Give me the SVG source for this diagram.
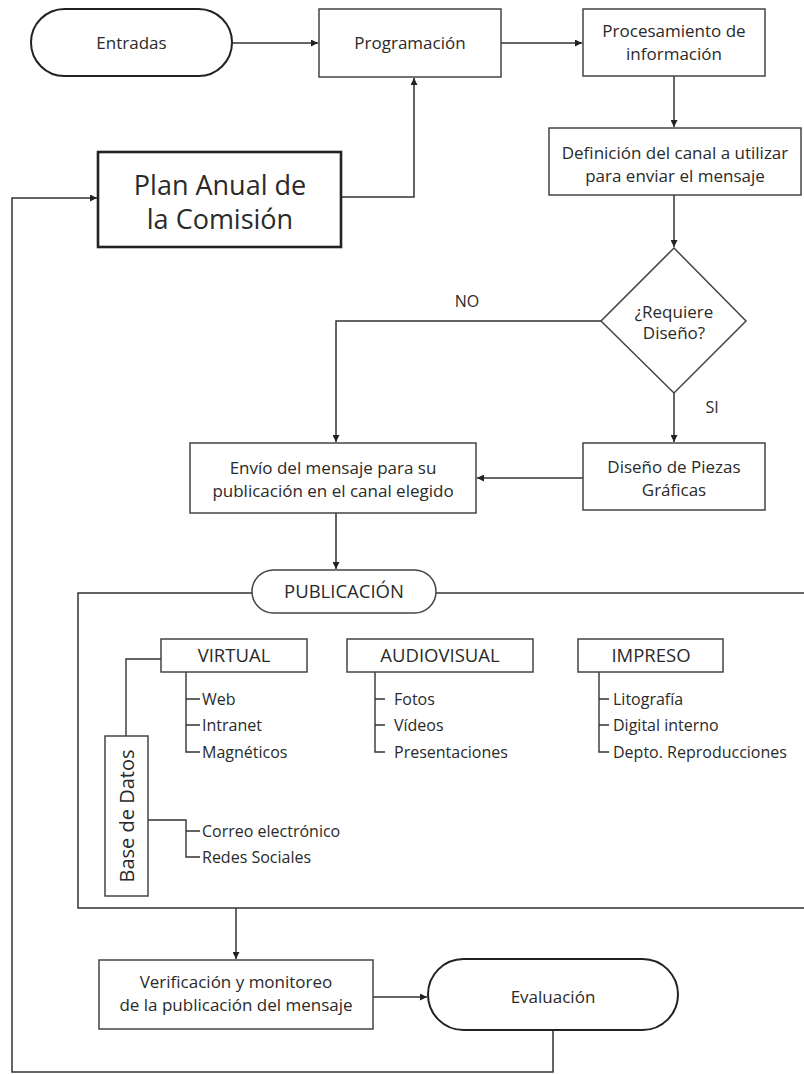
<svg xmlns="http://www.w3.org/2000/svg" width="804" height="1074" viewBox="0 0 804 1074">
  <style>
    text { font-family: "Open Sans", "Noto Sans", "DejaVu Sans", sans-serif; fill: #2a2a2a; text-anchor: middle; }
    .box { fill: #fff; stroke: #444; stroke-width: 1.5; }
    .thick { fill: #fff; stroke: #222; stroke-width: 2.6; }
    .term { fill: #fff; stroke: #222; stroke-width: 2; }
    .line { fill: none; stroke: #333; stroke-width: 1.5; }
    .tree { fill: none; stroke: #333; stroke-width: 1.4; }
    .t17 { font-size: 17px; }
    .t16 { font-size: 16px; }
    .t18 { font-size: 18.5px; }
    .item { font-size: 16px; text-anchor: start; }
  </style>
  <defs>
    <marker id="arrow" viewBox="0 0 10 10" refX="10" refY="5" markerWidth="9" markerHeight="7" markerUnits="userSpaceOnUse" orient="auto">
      <path d="M0,0 L10,5 L0,10 z" fill="#222"/>
    </marker>
  </defs>

  <rect width="804" height="1074" fill="#fff"/>

  <!-- connectors -->
  <g id="connectors">
    <path class="line" d="M232,43 H318" marker-end="url(#arrow)"/>
    <path class="line" d="M501,43 H582" marker-end="url(#arrow)"/>
    <path class="line" d="M674,76 V127" marker-end="url(#arrow)"/>
    <path class="line" d="M674,195 V247" marker-end="url(#arrow)"/>
    <path class="line" d="M601,321 H336 V442" marker-end="url(#arrow)"/>
    <path class="line" d="M674,393 V442" marker-end="url(#arrow)"/>
    <path class="line" d="M583,478 H477" marker-end="url(#arrow)"/>
    <path class="line" d="M336,513 V569" marker-end="url(#arrow)"/>
    <path class="line" d="M236,908 V959" marker-end="url(#arrow)"/>
    <path class="line" d="M373,997 H427" marker-end="url(#arrow)"/>
    <path class="line" d="M553,1030 V1072 H12 V198 H97" marker-end="url(#arrow)"/>
    <path class="line" d="M341,197 H414 V78" marker-end="url(#arrow)"/>
  </g>

  <!-- publication frame -->
  <g id="publicacion-frame">
    <path class="line" d="M252,593 H78 V908 H804"/>
    <path class="line" d="M436,593 H804"/>
  </g>

  <g id="entradas">
    <rect class="term" x="31" y="9" width="201" height="67" rx="33.5"/>
    <text class="t17" x="131.5" y="49">Entradas</text>
  </g>

  <g id="programacion">
    <rect class="box" x="319" y="9" width="182" height="68"/>
    <text class="t17" x="410" y="49">Programación</text>
  </g>

  <g id="procesamiento">
    <rect class="box" x="583" y="9" width="182" height="67"/>
    <text class="t17" x="674" y="37">Procesamiento de</text>
    <text class="t17" x="674" y="60">información</text>
  </g>

  <g id="plan-anual">
    <rect class="thick" x="98" y="152" width="243" height="95"/>
    <text x="220" y="195" style="font-size:27px">Plan Anual de</text>
    <text x="220" y="229" style="font-size:27px">la Comisión</text>
  </g>

  <g id="definicion">
    <rect class="box" x="549" y="128" width="252" height="67"/>
    <text class="t17" x="675" y="159">Definición del canal a utilizar</text>
    <text class="t17" x="675" y="182">para enviar el mensaje</text>
  </g>

  <g id="requiere-diseno">
    <path class="box" d="M674,248 L746,321 L674,393 L601,321 Z"/>
    <text class="t17" x="674" y="318">¿Requiere</text>
    <text class="t17" x="674" y="339">Diseño?</text>
  </g>

  <g id="labels">
    <text class="t16" x="467" y="307">NO</text>
    <text class="t16" x="712" y="413">SI</text>
  </g>

  <g id="diseno-piezas">
    <rect class="box" x="583" y="443" width="182" height="67"/>
    <text class="t17" x="674" y="473">Diseño de Piezas</text>
    <text class="t17" x="674" y="496">Gráficas</text>
  </g>

  <g id="envio">
    <rect class="box" x="190" y="443" width="286" height="70"/>
    <text class="t17" x="333" y="474">Envío del mensaje para su</text>
    <text class="t17" x="333" y="497">publicación en el canal elegido</text>
  </g>

  <g id="publicacion">
    <rect class="box" x="252" y="570" width="184" height="43" rx="21.5"/>
    <text class="t18" x="344" y="598">PUBLICACIÓN</text>
  </g>

  <!-- channel trees -->
  <g id="tree-lines">
    <path class="tree" d="M126,736 V659 H161"/>
    <path class="tree" d="M186,672 V752 H200 M186,699 H200 M186,725 H200"/>
    <path class="tree" d="M375,672 V752 H385 M375,699 H385 M375,725 H385"/>
    <path class="tree" d="M599,672 V752 H609 M599,699 H609 M599,725 H609"/>
    <path class="tree" d="M148,820 H186 V857 H200 M186,831 H200"/>
  </g>

  <g id="virtual">
    <rect class="box" x="161" y="639" width="146" height="33"/>
    <text class="t18" x="234" y="662">VIRTUAL</text>
    <text class="item" x="202" y="705">Web</text>
    <text class="item" x="202" y="731">Intranet</text>
    <text class="item" x="202" y="758">Magnéticos</text>
  </g>

  <g id="audiovisual">
    <rect class="box" x="347" y="639" width="186" height="33"/>
    <text class="t18" x="440" y="662">AUDIOVISUAL</text>
    <text class="item" x="394" y="705">Fotos</text>
    <text class="item" x="394" y="731">Vídeos</text>
    <text class="item" x="394" y="758">Presentaciones</text>
  </g>

  <g id="impreso">
    <rect class="box" x="578" y="639" width="145" height="33"/>
    <text class="t18" x="651" y="662">IMPRESO</text>
    <text class="item" x="613" y="705">Litografía</text>
    <text class="item" x="613" y="731">Digital interno</text>
    <text class="item" x="613" y="758">Depto. Reproducciones</text>
  </g>

  <g id="base-datos">
    <rect class="box" x="105" y="736" width="43" height="160"/>
    <text x="0" y="0" transform="translate(134,816) rotate(-90)" style="font-size:20px">Base de Datos</text>
    <text class="item" x="202" y="837">Correo electrónico</text>
    <text class="item" x="202" y="863">Redes Sociales</text>
  </g>

  <g id="verificacion">
    <rect class="box" x="99" y="960" width="274" height="69"/>
    <text class="t17" x="236" y="988">Verificación y monitoreo</text>
    <text class="t17" x="236" y="1011">de la publicación del mensaje</text>
  </g>

  <g id="evaluacion">
    <rect class="term" x="428" y="959" width="250" height="71" rx="35.5"/>
    <text class="t17" x="553" y="1003">Evaluación</text>
  </g>
</svg>
